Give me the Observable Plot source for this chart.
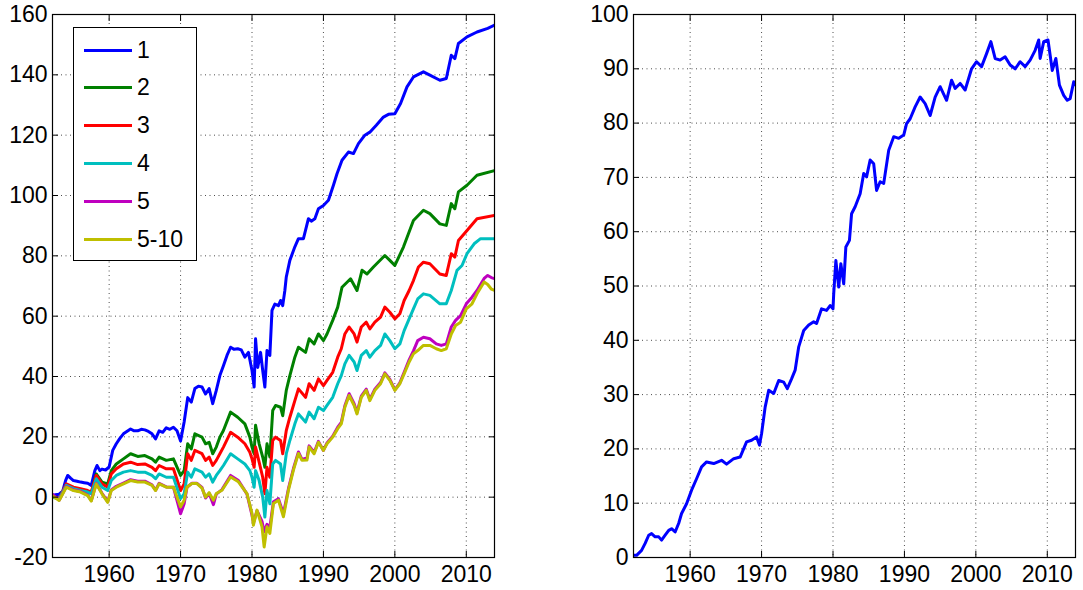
<!DOCTYPE html>
<html>
<head>
<meta charset="utf-8">
<script src="https://cdn.jsdelivr.net/npm/d3@7"></script>
<script src="https://cdn.jsdelivr.net/npm/@observablehq/plot@0.6"></script>
<style>
  html, body { margin: 0; padding: 0; background: #fff; }
  #wrap { position: relative; width: 1083px; height: 590px; overflow: hidden; font-family: "Liberation Sans", Arial, sans-serif; }
  #left, #right { position: absolute; top: 0; }
  #left { left: 0; }
  #right { left: 560px; }
  #legend { position: absolute; left: 73px; top: 27px; width: 122px; height: 232px; border: 1px solid #000; background: #fff; z-index: 5; }
  .entry { position: absolute; left: 0; height: 30px; display: flex; align-items: center; font-size: 23px; color: #000; }
  .swatch { display: inline-block; width: 48px; height: 3px; margin-left: 10px; margin-right: 5px; }
</style>
</head>
<body>
<div id="wrap">
  <div id="left"></div>
  <div id="right"></div>
  <div id="legend"></div>
</div>
<script>
// ---- data ----
const xTicks = [1960, 1970, 1980, 1990, 2000, 2010];
const yTicksLeft = [-20, 0, 20, 40, 60, 80, 100, 120, 140, 160];
const yTicksRight = [0, 10, 20, 30, 40, 50, 60, 70, 80, 90, 100];
const seriesNames = ["1", "2", "3", "4", "5", "5-10"];
const seriesColors = ["#0000ff", "#008000", "#ff0000", "#00bfbf", "#bf00bf", "#bfbf00"];

const s1 = [[1952.0,0.5],[1952.5,0.8],[1953,1],[1953.5,2],[1953.9,5.5],[1954.2,7.2],[1954.6,6.3],[1955,5.5],[1955.5,5.3],[1956,5],[1956.5,4.8],[1957,4.6],[1957.5,3.9],[1958,8.8],[1958.3,10.5],[1958.7,8.8],[1959,9.3],[1959.5,9],[1960,10],[1960.5,15.5],[1961,17.7],[1961.5,19.5],[1962,21],[1963,22.6],[1963.5,22],[1964,22],[1964.5,22.5],[1965,22.3],[1965.5,21.8],[1966,21],[1966.5,19.3],[1967,22],[1967.5,21.5],[1968,23],[1968.5,22.5],[1969,23.2],[1969.5,22],[1970,18.6],[1970.5,24.9],[1971,33],[1971.5,31.5],[1972,36],[1972.5,36.8],[1973,36.5],[1973.5,34.2],[1974,36],[1974.5,31],[1975,35.4],[1975.5,40.3],[1976,43.6],[1976.5,47],[1977,49.7],[1977.5,49],[1978,49.2],[1978.5,48.8],[1979,46.4],[1979.5,48],[1980,42],[1980.3,36.5],[1980.5,52.5],[1980.8,43],[1981.2,48],[1981.5,42],[1981.8,36.5],[1982.1,48.6],[1982.5,47],[1982.8,61.9],[1983.2,64],[1983.7,63.5],[1984,65.2],[1984.3,63.5],[1984.6,68.5],[1984.8,73],[1985.3,78.5],[1986,83],[1986.5,85.7],[1987.2,85.7],[1987.9,92.3],[1988.3,91.5],[1988.8,92.3],[1989.3,95.6],[1990,96.7],[1990.7,98.4],[1991.4,103.4],[1991.9,107.2],[1992.6,111.7],[1993.5,114.4],[1994.2,113.9],[1994.9,117.2],[1995.8,120],[1996.5,121],[1997.4,123.3],[1998.4,126],[1999.1,126.9],[2000,127.1],[2000.8,130.5],[2001.7,136],[2002.6,139.3],[2004,141],[2004.9,139.9],[2006.3,138.2],[2007.2,138.8],[2007.9,146.5],[2008.4,145.4],[2008.9,150.4],[2010.1,152.6],[2011.5,154.2],[2013,155.4],[2014,156.5]];

const s2 = [[1952,0.5],[1953,-0.5],[1954,3.9],[1955,2.8],[1956,2.4],[1957,1.7],[1957.5,1.3],[1958.2,7.7],[1959,5],[1959.8,4.4],[1960.3,8.8],[1961,11],[1962,12.7],[1963,14.4],[1964,13.5],[1965,13.8],[1966,12.7],[1966.5,11.6],[1967,13.3],[1968,12.2],[1969,12.7],[1970,7.2],[1970.5,8.8],[1971,17.7],[1971.5,16],[1972,21],[1973,19.9],[1973.5,17.7],[1974,18.2],[1974.5,14.4],[1975,16.6],[1975.5,19.9],[1976,22.1],[1977,28.2],[1978,26.5],[1979,24.3],[1979.7,19.9],[1980,16.6],[1980.3,14.4],[1980.5,23.8],[1981,17.7],[1981.5,13.3],[1981.8,9.9],[1982.1,17.7],[1982.5,13.3],[1982.9,28.7],[1983.3,30.4],[1984,29.8],[1984.3,27],[1984.8,35.4],[1985.3,40.3],[1986,46.4],[1986.5,49.7],[1987.5,48],[1988,52.5],[1988.7,50.8],[1989.3,54.1],[1990,51.9],[1990.5,54.1],[1991.3,58.6],[1992,63],[1992.6,69.6],[1993.8,72.4],[1994.7,68.5],[1995.4,75.2],[1996.1,74],[1997,76.3],[1998.6,80.1],[1999.3,78.5],[2000,76.8],[2001.2,82.9],[2001.9,87.3],[2002.6,91.7],[2004,95.1],[2004.9,94],[2006.3,90.6],[2007.2,90.1],[2007.9,97.3],[2008.4,95.6],[2008.9,101.2],[2010.1,103.4],[2011.5,106.7],[2014,108.3]];

const s3 = [[1952,0.5],[1953,-0.5],[1954,4.4],[1955,3.3],[1956,2.8],[1957,2.2],[1957.5,1.7],[1958.2,7.2],[1959,4.4],[1959.8,3.3],[1960.3,7.7],[1961,9.4],[1962,11],[1963,11.6],[1964,10.8],[1965,11],[1966,9.9],[1966.5,8.8],[1967,10.5],[1968,9.4],[1969,9.4],[1970,2.2],[1970.5,4.4],[1971,14.4],[1971.5,12.2],[1972,15.5],[1973,14.4],[1973.5,12.2],[1974,13.3],[1974.5,10.5],[1975,12.2],[1975.5,14.4],[1976,16.6],[1977,21.5],[1978,19.9],[1979,17.7],[1979.7,14.9],[1980,12.7],[1980.3,9.9],[1980.5,16.6],[1981,11.6],[1981.5,6.6],[1981.8,1.1],[1982.1,9.9],[1982.5,6.6],[1982.9,18.8],[1983.3,19.9],[1984,18.8],[1984.3,14.4],[1984.8,22.1],[1985.3,26.5],[1986,32],[1986.5,35.9],[1987.5,33.1],[1988,37.6],[1988.7,35.4],[1989.3,39.2],[1990,37],[1990.5,38.7],[1991.3,41.4],[1992,46.4],[1992.5,49.2],[1993,54.1],[1993.6,56.4],[1994.3,54.1],[1994.7,51.4],[1995.3,56.4],[1996,58],[1996.5,55.8],[1997.2,58],[1998,59.7],[1998.6,63],[1999.3,61.3],[2000,59.1],[2000.7,60.8],[2001.3,65.2],[2002,68.5],[2002.6,71.8],[2003.3,76.3],[2004,77.9],[2004.9,77.4],[2006.3,74],[2007.2,73.5],[2007.9,80.7],[2008.4,79.6],[2008.9,85.1],[2010.1,88.4],[2011.5,92.3],[2014,93.4]];

const s4 = [[1952,0],[1953,-0.5],[1954,3.9],[1955,2.8],[1956,2.2],[1957,1.7],[1957.5,1.1],[1958.2,6.1],[1959,3.3],[1959.8,2.2],[1960.3,5.5],[1961,7.2],[1962,8.3],[1963,8.8],[1964,8.3],[1965,8.3],[1966,7.2],[1966.5,6.1],[1967,7.7],[1968,6.6],[1969,6.6],[1970,-0.5],[1970.5,1.1],[1971,8.3],[1971.5,6.6],[1972,9.4],[1973,8.3],[1973.5,6.6],[1974,7.7],[1974.5,5],[1975,7.2],[1975.5,8.8],[1976,10.5],[1977,14.4],[1978,12.7],[1979,11],[1979.7,8.8],[1980,6.6],[1980.3,3.3],[1980.5,8.8],[1981,5.5],[1981.5,0],[1981.8,-6.6],[1982.1,2.2],[1982.5,-2.2],[1982.9,11],[1983.3,12.2],[1984,11],[1984.3,5.5],[1984.8,14.4],[1985.3,18.8],[1986,24.3],[1986.5,27.6],[1987.5,24.9],[1988,28.2],[1988.7,26],[1989.3,29.8],[1990,28.7],[1990.5,30.4],[1991.3,33.1],[1992,37.6],[1992.5,40.3],[1993,44.2],[1993.6,47],[1994.3,44.8],[1994.7,42],[1995.3,47],[1996,48.6],[1996.5,46.4],[1997.2,48.6],[1998,50.3],[1998.6,54.1],[1999.3,51.9],[2000,49.2],[2000.7,50.8],[2001.3,55.2],[2002,59.1],[2002.6,62.4],[2003.2,65.7],[2004,67.4],[2004.9,66.9],[2006.3,64.1],[2007.2,64.1],[2007.9,68.5],[2008.7,75.2],[2009.4,76.8],[2010.1,80.7],[2011.1,84],[2012,85.7],[2014,85.7]];

const s5 = [[1952,1.1],[1953,-1],[1954,3.5],[1955,2.4],[1956,1.9],[1957,0.7],[1957.5,-1.1],[1958.2,4.6],[1959,1.3],[1959.8,-1.5],[1960.3,2.4],[1961,3.6],[1962,4.7],[1963,5.8],[1964,5.3],[1965,5.3],[1966,4.1],[1966.5,2.3],[1967,4.6],[1968,3.4],[1969,3.3],[1970,-5.5],[1970.5,-2.2],[1970.9,3.3],[1971.6,4.6],[1972.3,4.6],[1973,3.2],[1973.5,-0.3],[1974,1.2],[1974.6,-2.5],[1975,1],[1975.8,2.5],[1977,7.2],[1978.1,5.5],[1979.3,1],[1980,-6],[1980.2,-8.5],[1980.7,-4.5],[1981.4,-8],[1981.7,-11.5],[1982.1,-9],[1982.5,-10],[1983,-1.5],[1983.7,-0.5],[1984.4,-5.5],[1985.1,2.8],[1985.8,9.5],[1986.5,15],[1987,12.5],[1987.7,13],[1988,17],[1988.7,14.8],[1989.3,18.5],[1990,15.5],[1990.5,18],[1991.3,20.2],[1992,23.2],[1992.5,24.8],[1993,30.3],[1993.6,34.3],[1994.3,31],[1994.7,28],[1995.3,33.5],[1996,35.8],[1996.5,32.4],[1997.2,35.8],[1998,38],[1998.6,41.2],[1999.3,39],[2000,35.6],[2000.7,37.9],[2001.3,41.4],[2002,45.5],[2002.6,48.5],[2003.2,51.9],[2004,53],[2004.9,52.5],[2005.8,50.8],[2006.5,50.3],[2007.2,50.8],[2007.9,56.4],[2008.5,58.6],[2009.2,60.2],[2010,64.1],[2010.8,66.3],[2011.5,68.5],[2012.5,72.5],[2013,73.5],[2013.5,72.8],[2014,72.4]];

const s510 = [[1952,0.5],[1953,-1.1],[1954,3.3],[1955,2.2],[1956,1.7],[1957,0.5],[1957.5,-1.3],[1958.2,4.4],[1959,1.1],[1959.8,-1.7],[1960.3,2.2],[1961,3.3],[1962,4.4],[1963,5.5],[1964,5],[1965,5],[1966,3.9],[1966.5,2.2],[1967,4.4],[1968,3.3],[1969,3.3],[1970,-3.2],[1970.5,-1],[1970.9,3.4],[1971.6,4.5],[1972.3,4.5],[1973,3],[1973.5,0],[1974,1.5],[1974.6,-1],[1975,1.2],[1975.8,2.3],[1977,6.7],[1978.1,5.1],[1979.3,1.2],[1980,-5.4],[1980.2,-9.3],[1980.7,-4.3],[1981.4,-9.8],[1981.7,-16.5],[1982.1,-9.8],[1982.5,-12],[1983,-2.1],[1983.7,-1],[1984.4,-6.5],[1985.1,2.3],[1985.8,9],[1986.5,14.5],[1987,12.2],[1987.7,12.3],[1988,16.6],[1988.7,14.4],[1989.3,18.2],[1990,15.5],[1990.5,17.7],[1991.3,19.9],[1992,22.7],[1992.5,24.3],[1993,29.8],[1993.6,33.7],[1994.3,30.4],[1994.7,27.6],[1995.3,33.1],[1996,35.4],[1996.5,32],[1997.2,35.4],[1998,37.6],[1998.6,40.9],[1999.3,38.7],[2000,35.4],[2000.7,37.6],[2001.3,40.9],[2002,44.8],[2002.6,47.5],[2003.2,48.6],[2004,50.3],[2004.9,50.3],[2005.8,49.2],[2006.5,48.6],[2007.2,49.2],[2007.9,54.1],[2008.5,56.9],[2009.2,58],[2010,62.4],[2010.8,64.1],[2011.5,67.4],[2012.5,71.3],[2013,70.5],[2013.5,69],[2014,68.5]];

const rightSeries = [[1952.06,0.4],[1952.5,0.4],[1953.2,1.3],[1953.7,2.6],[1954.2,4.1],[1954.6,4.4],[1955.1,3.8],[1955.6,3.8],[1956,3.2],[1956.5,4.1],[1957,5],[1957.4,5.3],[1957.9,4.7],[1958.4,6.3],[1958.8,8.1],[1959.5,9.9],[1960.2,12.4],[1960.9,14.5],[1961.6,16.7],[1962.3,17.6],[1963.3,17.3],[1964.4,17.9],[1965.1,17.2],[1966.1,18.2],[1967,18.5],[1967.9,21.3],[1968.6,21.6],[1969.3,22.2],[1969.7,20.7],[1970,22.8],[1970.5,27.7],[1971,30.8],[1971.7,30.2],[1972.4,32.6],[1973.1,32.3],[1973.6,31.1],[1974.2,32.9],[1974.7,34.5],[1975.2,38.8],[1975.9,41.8],[1976.6,42.8],[1977.3,43.4],[1977.7,43.1],[1978.4,45.8],[1979.1,45.5],[1979.6,46.4],[1980,45.8],[1980.1,48.6],[1980.4,54.7],[1980.8,49.8],[1981.1,54.1],[1981.5,50.4],[1981.8,57.2],[1982.3,58.4],[1982.6,63.3],[1983.1,64.6],[1983.8,67],[1984.3,70.7],[1984.7,70.1],[1985.2,73.2],[1985.7,72.5],[1986.1,67.6],[1986.6,69.2],[1987.1,68.9],[1987.8,75],[1988.5,77.5],[1989.2,77.2],[1989.9,77.8],[1990.3,79.9],[1990.8,80.8],[1991.5,83],[1992.2,84.8],[1992.9,83.6],[1993.6,81.4],[1994.3,84.8],[1995,86.7],[1995.9,84.2],[1996.6,87.9],[1997.1,86.4],[1997.8,87.3],[1998.5,86.1],[1999.4,90],[2000.1,91.3],[2000.8,90.4],[2001.5,92.8],[2002.1,95],[2002.7,91.9],[2003.4,91.6],[2004.1,92.2],[2004.8,90.7],[2005.5,90],[2006.2,91.3],[2006.9,90.4],[2007.6,91.6],[2008.3,93.4],[2008.8,95.3],[2009,91.9],[2009.5,95],[2010.1,95.3],[2010.7,89.7],[2011.2,91.9],[2011.7,87],[2012.3,85.1],[2012.8,84.2],[2013.2,84.5],[2013.7,87.6],[2014,87]];

const leftSeries = [s1, s2, s3, s4, s5, s510];

// ---- drawing ----
const xDomain = [1952.07, 2013.95];
const fontStyle = {fontFamily: '"Liberation Sans", Arial, sans-serif', fontSize: "23px", color: "#000", background: "transparent", overflow: "visible"};
const gridOpts = {stroke: "#000", strokeOpacity: 0.7, strokeDasharray: "1,3.5", strokeWidth: 1};

function axesMarks(yTicks) {
  return [
    Plot.frame({stroke: "#000", strokeWidth: 1.2}),
    Plot.axisX(xTicks, {anchor: "bottom", tickSize: 6, dy: -6, fill: "none", label: null}),
    Plot.axisX(xTicks, {anchor: "top", tickSize: 6, dy: 6, fill: "none", label: null}),
    Plot.axisY(yTicks, {anchor: "left", tickSize: 6, dx: 6, fill: "none", label: null}),
    Plot.axisY(yTicks, {anchor: "right", tickSize: 6, dx: -6, fill: "none", label: null}),
    Plot.axisX(xTicks, {anchor: "bottom", tickSize: 0, tickPadding: 8, tickFormat: d => String(d), label: null}),
    Plot.axisY(yTicks, {anchor: "left", tickSize: 0, tickPadding: 5, tickFormat: d => String(d), label: null})
  ];
}

const leftPlot = Plot.plot({
  width: 560, height: 590,
  marginLeft: 52, marginRight: 66, marginTop: 14, marginBottom: 33,
  style: fontStyle,
  x: {domain: xDomain},
  y: {domain: [-20, 160]},
  marks: [
    Plot.gridX(xTicks, gridOpts),
    Plot.gridY(yTicksLeft, gridOpts),
    ...leftSeries.map((s, i) => Plot.line(s, {x: d => d[0], y: d => d[1], stroke: seriesColors[i], strokeWidth: 3, strokeLinejoin: "round", clip: true})),
    ...axesMarks(yTicksLeft)
  ]
});
document.getElementById("left").appendChild(leftPlot);

const rightPlot = Plot.plot({
  width: 523, height: 590,
  marginLeft: 73, marginRight: 8, marginTop: 14, marginBottom: 33,
  style: fontStyle,
  x: {domain: xDomain},
  y: {domain: [0, 100]},
  marks: [
    Plot.gridX(xTicks, gridOpts),
    Plot.gridY(yTicksRight, gridOpts),
    Plot.line(rightSeries, {x: d => d[0], y: d => d[1], stroke: "#0000ff", strokeWidth: 3, strokeLinejoin: "round", clip: true}),
    ...axesMarks(yTicksRight)
  ]
});
document.getElementById("right").appendChild(rightPlot);

// legend
const legend = document.getElementById("legend");
seriesNames.forEach((name, i) => {
  const row = document.createElement("div");
  row.className = "entry";
  row.style.top = (7 + i * 37.9) + "px";
  const sw = document.createElement("span");
  sw.className = "swatch";
  sw.style.background = seriesColors[i];
  const tx = document.createElement("span");
  tx.textContent = name;
  row.appendChild(sw);
  row.appendChild(tx);
  legend.appendChild(row);
});
</script>
</body>
</html>
